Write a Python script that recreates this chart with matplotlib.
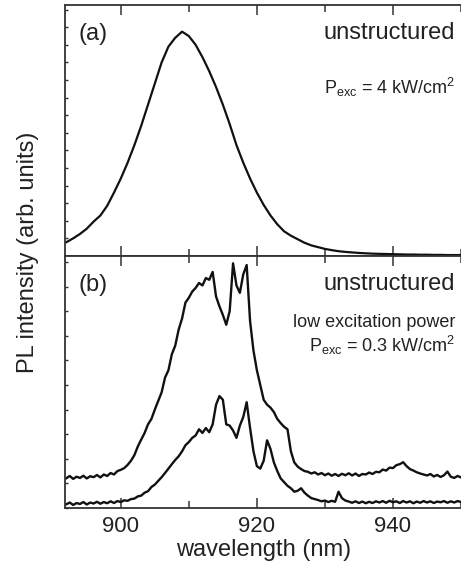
import numpy as np
import matplotlib
matplotlib.use('Agg')
import matplotlib.pyplot as plt
from matplotlib.ticker import MultipleLocator

plt.rcParams['font.family'] = ['Liberation Sans', 'DejaVu Sans']
plt.rcParams['mathtext.fontset'] = 'custom'
plt.rcParams['mathtext.rm'] = 'Liberation Sans'
plt.rcParams['mathtext.it'] = 'Liberation Sans'

# panel (a): PL spectrum, high excitation (1 nm steps)
wl_a = np.arange(892, 951, 1.0)
pl_a = [0.78, 1.00, 1.25, 1.55, 1.95, 2.30, 2.85, 3.60, 4.40, 5.30,
        6.30, 7.40, 8.60, 9.80, 11.00, 11.90, 12.40, 12.75, 12.50, 12.00,
        11.30, 10.50, 9.60, 8.60, 7.50, 6.30, 5.30, 4.40, 3.60, 2.90,
        2.30, 1.80, 1.40, 1.15, 0.95, 0.75, 0.60, 0.50, 0.40, 0.33,
        0.27, 0.23, 0.20, 0.17, 0.15, 0.13, 0.12, 0.11, 0.10, 0.09,
        0.08, 0.08, 0.07, 0.07, 0.06, 0.06, 0.05, 0.05, 0.05]

# panel (b): two spectra at low excitation (0.5 nm steps)
wl_b = np.arange(892.0, 950.25, 0.5)
pl_b_upper = [1.21, 1.30, 1.18, 1.27, 1.22, 1.31, 1.20, 1.29, 1.25, 1.34,
              1.24, 1.36, 1.30, 1.42, 1.36, 1.50, 1.55, 1.62, 1.75, 1.92,
              2.15, 2.50, 2.78, 3.05, 3.40, 3.62, 4.00, 4.35, 4.70, 5.30,
              5.60, 6.25, 6.60, 7.25, 7.70, 8.35, 8.55, 8.80, 8.95, 9.15,
              9.05, 9.35, 9.28, 9.60, 8.60, 8.20, 7.85, 7.45, 8.00, 9.95,
              9.05, 8.75, 9.50, 9.88, 7.60, 6.40, 5.60, 5.00, 4.40, 4.20,
              4.08, 3.90, 3.62, 3.45, 3.30, 3.20, 2.30, 1.85, 1.68, 1.58,
              1.50, 1.47, 1.40, 1.45, 1.36, 1.42, 1.33, 1.40, 1.31, 1.38,
              1.30, 1.39, 1.33, 1.41, 1.32, 1.40, 1.30, 1.38, 1.36, 1.44,
              1.38, 1.47, 1.45, 1.56, 1.52, 1.64, 1.62, 1.74, 1.78, 1.86,
              1.70, 1.58, 1.52, 1.45, 1.40, 1.36, 1.32, 1.38, 1.28, 1.34,
              1.26, 1.33, 1.48, 1.27, 1.22, 1.30, 1.24]
pl_b_lower = [0.15, 0.22, 0.12, 0.20, 0.16, 0.24, 0.14, 0.22, 0.18, 0.25,
              0.17, 0.24, 0.19, 0.27, 0.20, 0.28, 0.24, 0.31, 0.29, 0.36,
              0.38, 0.47, 0.50, 0.62, 0.68, 0.85, 0.95, 1.10, 1.25, 1.42,
              1.60, 1.78, 1.95, 2.10, 2.30, 2.55, 2.68, 2.85, 2.95, 3.20,
              3.05, 3.25, 3.08, 3.40, 4.20, 4.55, 4.40, 3.40, 3.35, 3.15,
              2.85, 3.35, 3.70, 4.30, 3.25, 2.30, 1.70, 1.60, 1.92, 2.75,
              2.40, 1.85, 1.50, 1.20, 1.05, 0.90, 0.80, 0.66, 0.70, 0.80,
              0.62, 0.50, 0.40, 0.36, 0.32, 0.27, 0.30, 0.24, 0.29, 0.25,
              0.66, 0.40, 0.30, 0.26, 0.21, 0.27, 0.20, 0.26, 0.19, 0.25,
              0.20, 0.27, 0.22, 0.28, 0.21, 0.29, 0.23, 0.27, 0.20, 0.28,
              0.22, 0.27, 0.19, 0.26, 0.21, 0.28, 0.22, 0.27, 0.20, 0.26,
              0.23, 0.28, 0.21, 0.27, 0.22, 0.28, 0.24]

xticks = [900, 920, 940]

fig = plt.figure(figsize=(4.61, 5.65), dpi=100)
ax_a = fig.add_axes([0.141, 0.547, 0.859, 0.444])
ax_b = fig.add_axes([0.141, 0.101, 0.859, 0.446])

ax_a.plot(wl_a, pl_a, color='#111111', lw=1.6)
ax_b.plot(wl_b, pl_b_upper, color='#111111', lw=1.7)
ax_b.plot(wl_b, pl_b_lower, color='#111111', lw=1.7)

ax_a.set_ylim(0, 14.26)
ax_b.set_ylim(0, 10.25)

for ax in (ax_a, ax_b):
    ax.set_xlim(891.8, 950)
    ax.set_xticks(xticks)
    ax.xaxis.set_minor_locator(MultipleLocator(10))
    ax.yaxis.set_major_locator(MultipleLocator(1))
    ax.tick_params(axis='x', which='major', direction='in', length=7.5, width=1.1,
                   top=True, color='#333333', labelsize=16, pad=6, labelcolor='#222222')
    ax.tick_params(axis='x', which='minor', direction='in', length=5, width=1.1,
                   top=True, color='#333333')
    ax.tick_params(axis='y', which='major', direction='in', length=2.5, width=1,
                   color='#333333', labelleft=False)
    ax.spines['right'].set_visible(False)
    for s in ('left', 'top', 'bottom'):
        ax.spines[s].set_color('#333333')
        ax.spines[s].set_linewidth(1.3)

ax_a.tick_params(axis='x', labelbottom=False)

tc = '#222222'
ax_a.text(0.033, 0.884, '(a)', transform=ax_a.transAxes, fontsize=17, color=tc, va='center')
ax_a.text(0.985, 0.888, 'unstructured', transform=ax_a.transAxes, fontsize=17, color=tc,
          va='center', ha='right')
ax_a.text(0.985, 0.673, r'P$_{\rm exc}$ = 4 kW/cm$^2$', transform=ax_a.transAxes,
          fontsize=13, color=tc, va='center', ha='right')

ax_b.text(0.033, 0.885, '(b)', transform=ax_b.transAxes, fontsize=17, color=tc, va='center')
ax_b.text(0.985, 0.889, 'unstructured', transform=ax_b.transAxes, fontsize=17, color=tc,
          va='center', ha='right')
ax_b.text(0.985, 0.734, 'low excitation power', transform=ax_b.transAxes,
          fontsize=13, color=tc, va='center', ha='right')
ax_b.text(0.985, 0.645, r'P$_{\rm exc}$ = 0.3 kW/cm$^2$', transform=ax_b.transAxes,
          fontsize=13, color=tc, va='center', ha='right')

fig.text(0.061, 0.554, 'PL intensity (arb. units)', rotation=90, fontsize=17,
         color=tc, ha='center', va='center')
fig.text(0.571, 0.027, 'wavelength (nm)', fontsize=17, color=tc, ha='center', va='center')

fig.savefig('out.png', dpi=100)
